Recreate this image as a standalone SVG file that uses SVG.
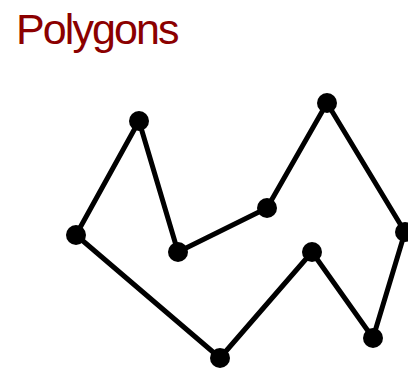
<svg xmlns="http://www.w3.org/2000/svg" width="408" height="370" viewBox="0 0 408 370">
<style>
.title{font-family:"Liberation Sans",Arial,sans-serif;font-size:43px;fill:#8b0000;letter-spacing:-1.9px}
.edge{fill:none;stroke:#000;stroke-width:5;stroke-linejoin:round}
.v{fill:#000}
</style>
<rect width="408" height="370" fill="#fff"/>
<text class="title" x="16" y="43.5">Polygons</text>
<g id="connectors">
<polygon class="edge" points="76,235 139,121 178,252 267,208 327,103 405,232 373,338 312,252 220,358"/>
</g>
<g id="n1"><circle class="v" cx="76" cy="235" r="10"/></g>
<g id="n2"><circle class="v" cx="139" cy="121" r="10"/></g>
<g id="n3"><circle class="v" cx="178" cy="252" r="10"/></g>
<g id="n4"><circle class="v" cx="267" cy="208" r="10"/></g>
<g id="n5"><circle class="v" cx="327" cy="103" r="10"/></g>
<g id="n6"><circle class="v" cx="405" cy="232" r="10"/></g>
<g id="n7"><circle class="v" cx="373" cy="338" r="10"/></g>
<g id="n8"><circle class="v" cx="312" cy="252" r="10"/></g>
<g id="n9"><circle class="v" cx="220" cy="358" r="10"/></g>
</svg>
